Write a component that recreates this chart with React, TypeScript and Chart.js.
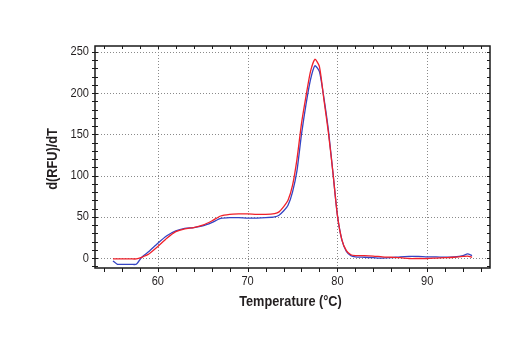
import React, { useEffect, useRef } from "react";
import { Chart, registerables } from "chart.js";

Chart.register(...registerables);

const temps = [55, 55.5, 56, 57, 57.6, 58.2, 59, 60, 61, 62, 63, 64, 65, 66, 67, 68, 69, 70, 71, 72, 73, 73.5, 74, 74.5, 75, 75.5, 76, 76.5, 77, 77.5, 78, 78.5, 79, 79.5, 80, 80.5, 81, 81.5, 82, 83, 84, 85, 86, 87, 88, 89, 90, 91, 92, 93, 94, 94.5, 95];

const redValues = [-1, -1, -1, -1, -1, 1, 5, 14, 24, 32, 35.5, 37, 40, 45, 51, 53, 53.5, 53.5, 53, 53, 54, 56, 62, 70, 88, 120, 163, 196, 226, 241, 232, 192, 152, 104, 52, 22, 9, 4, 3, 3, 2.5, 1.5, 1, 0.5, -0.5, -0.5, -0.5, 0, 0.5, 1, 2, 2.5, 1];

const blueValues = [-3.5, -7.5, -7.5, -7.5, -7.5, 1, 8, 18, 27, 33, 36, 37, 39, 43, 48, 49, 49, 48.5, 48.5, 49, 50, 52, 57, 64, 80, 106, 150, 186, 216, 233, 226, 194, 155, 104, 52, 22, 8, 3, 1.5, 1, 0.5, 0, 0.5, 1.5, 2, 2, 1.5, 1.5, 1, 1.5, 3, 5, 3];

const xMajorLabels = [60, 70, 80, 90];
const yMajorLabels = [0, 50, 100, 150, 200, 250];
const xTitle = "Temperature (°C)";
const yTitle = "d(RFU)/dT";

const FONT = "'Liberation Sans', Arial, sans-serif";
const SQUEEZE = 0.85;
const TEXT = "#231f20";

function squeezedText(ctx: any, text: string, x: number, y: number, align: string, rot = 0) {
  ctx.save();
  ctx.translate(x, y);
  if (rot) ctx.rotate(rot);
  ctx.scale(SQUEEZE, 1);
  ctx.textAlign = align;
  ctx.textBaseline = "middle";
  ctx.fillText(text, 0, 0);
  ctx.restore();
}

const framePlugin = {
  id: "frameTicks",
  beforeDatasetsDraw(chart: any) {
    const { ctx, chartArea: a, scales } = chart;
    const xs = scales.x;
    const ys = scales.y;
    ctx.save();
    ctx.strokeStyle = "#8a8a8a";
    ctx.lineWidth = 1;
    ctx.setLineDash([1, 2]);
    xMajorLabels.forEach((v) => {
      const px = Math.round(xs.getPixelForValue(v)) + 0.5;
      ctx.beginPath();
      ctx.moveTo(px, a.top);
      ctx.lineTo(px, a.bottom);
      ctx.stroke();
    });
    yMajorLabels.forEach((v) => {
      const py = Math.round(ys.getPixelForValue(v)) + 0.5;
      ctx.beginPath();
      ctx.moveTo(a.left, py);
      ctx.lineTo(a.right, py);
      ctx.stroke();
    });
    ctx.restore();
  },
  afterDatasetsDraw(chart: any) {
    const { ctx, chartArea: a, scales } = chart;
    const xs = scales.x;
    const ys = scales.y;
    ctx.save();
    ctx.setLineDash([]);
    ctx.strokeStyle = "#1a1a1a";
    ctx.lineWidth = 1.5;
    ctx.strokeRect(a.left, a.top, a.right - a.left, a.bottom - a.top);
    ctx.lineWidth = 1;
    ctx.beginPath();
    for (let v = 54; v <= 96; v += 2) {
      const px = Math.round(xs.getPixelForValue(v)) + 0.5;
      ctx.moveTo(px, a.bottom);
      ctx.lineTo(px, a.bottom + 4);
      ctx.moveTo(px, a.top);
      ctx.lineTo(px, a.top + 3);
    }
    for (let v = -10; v <= 250; v += 10) {
      const py = Math.round(ys.getPixelForValue(v)) + 0.5;
      ctx.moveTo(a.left - 3, py);
      ctx.lineTo(a.left + 3, py);
      ctx.moveTo(a.right - 3, py);
      ctx.lineTo(a.right, py);
    }
    ctx.stroke();

    // tick labels and axis titles
    ctx.fillStyle = TEXT;
    ctx.font = `13px ${FONT}`;
    yMajorLabels.forEach((v) => {
      squeezedText(ctx, String(v), a.left - 6, ys.getPixelForValue(v), "right");
    });
    xMajorLabels.forEach((v) => {
      squeezedText(ctx, String(v), xs.getPixelForValue(v), a.bottom + 13, "center");
    });
    ctx.font = `bold 15px ${FONT}`;
    squeezedText(ctx, xTitle, (a.left + a.right) / 2 - 2, a.bottom + 34, "center");
    squeezedText(ctx, yTitle, 53, (a.top + a.bottom) / 2 + 2, "center", -Math.PI / 2);
    ctx.restore();
  },
};

export default function App() {
  const ref = useRef<HTMLCanvasElement | null>(null);

  useEffect(() => {
    if (!ref.current) return;
    const chart = new Chart(ref.current, {
      type: "line",
      data: {
        datasets: [
          {
            label: "red",
            data: temps.map((t, i) => ({ x: t, y: redValues[i] })),
            borderColor: "#f0202a",
            borderWidth: 1.3,
            pointRadius: 0,
            tension: 0.2,
            fill: false,
          },
          {
            label: "blue",
            data: temps.map((t, i) => ({ x: t, y: blueValues[i] })),
            borderColor: "#3444c4",
            borderWidth: 1.3,
            pointRadius: 0,
            tension: 0.2,
            fill: false,
          },
        ],
      },
      options: {
        animation: false,
        responsive: false,
        maintainAspectRatio: false,
        layout: { padding: { left: 0, top: 46, right: 30, bottom: 0 } },
        plugins: {
          legend: { display: false },
          tooltip: { enabled: false },
        },
        scales: {
          x: {
            type: "linear",
            min: 53,
            max: 97,
            afterFit: (s: any) => {
              s.height = 82;
            },
            afterBuildTicks: (s: any) => {
              s.ticks = xMajorLabels.map((v) => ({ value: v }));
            },
            ticks: { display: false },
            grid: { display: false },
            border: { display: false },
          },
          y: {
            min: -12,
            max: 257,
            afterFit: (s: any) => {
              s.width = 95;
            },
            afterBuildTicks: (s: any) => {
              s.ticks = yMajorLabels.map((v) => ({ value: v }));
            },
            ticks: { display: false },
            grid: { display: false },
            border: { display: false },
          },
        },
      },
      plugins: [framePlugin],
    });
    return () => chart.destroy();
  }, []);

  return (
    <div style={{ position: "absolute", left: 0, top: 0, width: 520, height: 350, background: "#fff" }}>
      <canvas ref={ref} width={520} height={350} style={{ width: 520, height: 350, display: "block" }} />
    </div>
  );
}
